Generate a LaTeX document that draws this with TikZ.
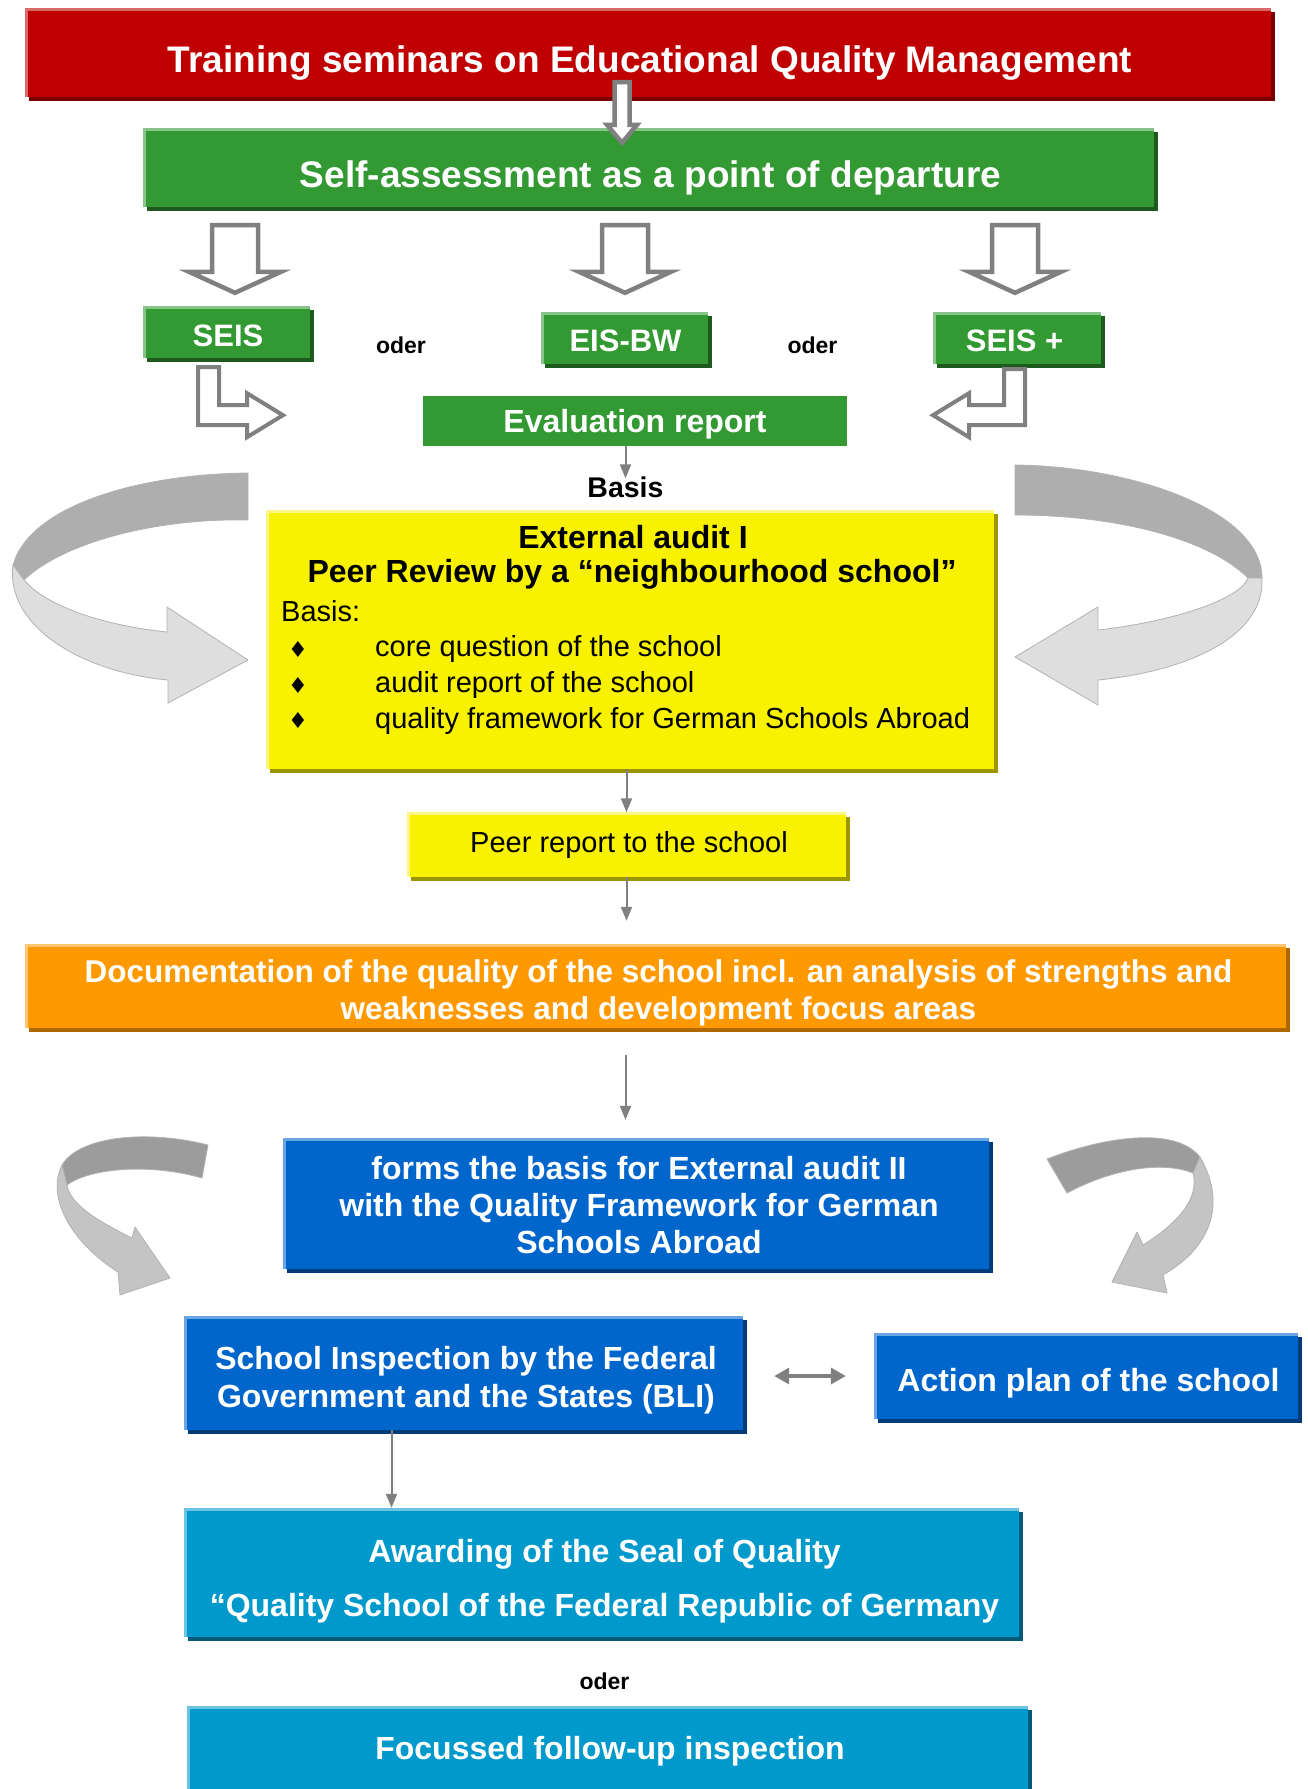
\documentclass[tikz,border=0pt]{standalone}
\usepackage{fontspec}
\setmainfont{Liberation Sans}
\newfontfamily\symbfont{DejaVu Sans}
\usetikzlibrary{arrows.meta,shadows,calc}

\definecolor{redfill}{HTML}{C00000}
\definecolor{redshadow}{HTML}{7A0000}
\definecolor{redrim}{HTML}{D86A6A}
\definecolor{greenfill}{HTML}{339933}
\definecolor{greenshadow}{HTML}{1E5A1E}
\definecolor{greenrim}{HTML}{88C488}
\definecolor{yellowfill}{HTML}{F8F200}
\definecolor{yellowshadow}{HTML}{9C9600}
\definecolor{yellowrim}{HTML}{FBF685}
\definecolor{orangefill}{HTML}{FF9900}
\definecolor{orangeshadow}{HTML}{B06800}
\definecolor{orangerim}{HTML}{FFC670}
\definecolor{bluefill}{HTML}{0066CC}
\definecolor{blueshadow}{HTML}{003C78}
\definecolor{bluerim}{HTML}{6AA4E2}
\definecolor{cyanfill}{HTML}{0099CC}
\definecolor{cyanshadow}{HTML}{005A78}
\definecolor{cyanrim}{HTML}{6CC4E2}
\definecolor{arrowgray}{HTML}{808080}
\definecolor{ribbonback}{HTML}{AEAEAE}
\definecolor{ribbonfront}{HTML}{DEDEDE}
\definecolor{ribbonbackii}{HTML}{9C9C9C}
\definecolor{ribbonfrontii}{HTML}{C4C4C4}

% hollow block arrow pointing down: top point, tip point, shaft half, head half, head length
\newcommand\blockdown[5]{%
  \coordinate (bt) at (#1);
  \coordinate (bb) at (#2);
  \draw[hollow] ($(bt)+(-#3,0)$) -- ($(bt)+(#3,0)$) -- ($(bb)+(#3,-#5)$)
    -- ($(bb)+(#4,-#5)$) -- (bb) -- ($(bb)+(-#4,-#5)$) -- ($(bb)+(-#3,-#5)$) -- cycle;}

\begin{document}
\begin{tikzpicture}[x=1pt,y=-1pt,
  panel/.style n args={3}{rectangle, inner sep=0pt, fill=#1,
    drop shadow={shadow xshift=4pt, shadow yshift=-4pt, fill=#2, opacity=1},
    path picture={\draw[#3, line width=5pt] (path picture bounding box.south west)
      -- (path picture bounding box.north west) -- (path picture bounding box.north east);}},
  wtext/.style={text=white, inner sep=0pt, align=center, font=\bfseries\fontsize{32}{37}\selectfont},
  btext/.style={text=black, inner sep=0pt, align=center, font=\bfseries\fontsize{32}{37}\selectfont},
  ntext/.style={text=black, inner sep=0pt, anchor=west, font=\fontsize{29}{35}\selectfont},
  odertext/.style={text=black, inner sep=0pt, font=\bfseries\fontsize{23}{28}\selectfont},
  conn/.style={draw=arrowgray, line width=2pt, -{Triangle[length=14pt,width=11pt]}},
  dblconn/.style={draw=arrowgray, line width=3.5pt,
    {Triangle[length=15pt,width=16pt]}-{Triangle[length=15pt,width=16pt]}},
  hollow/.style={draw=arrowgray, line width=4.5pt, fill=white, line join=miter},
  ribbon/.style={fill=#1, draw=black!30, line width=0.8pt, line join=round}]
\useasboundingbox (0,0) rectangle (1307,1789);

% boxes
\node[panel={redfill}{redshadow}{redrim}, minimum width=1246, minimum height=89] (train) at (648,52.5) {};
\node[panel={greenfill}{greenshadow}{greenrim}, minimum width=1011, minimum height=79] (selfass) at (648.5,167.5) {};
\node[panel={greenfill}{greenshadow}{greenrim}, minimum width=167, minimum height=52] (seis) at (226.5,332) {};
\node[panel={greenfill}{greenshadow}{greenrim}, minimum width=167, minimum height=52] (eisbw) at (624.5,338) {};
\node[panel={greenfill}{greenshadow}{greenrim}, minimum width=168, minimum height=52] (seisplus) at (1017,338) {};
\node[fill=greenfill, inner sep=0pt, minimum width=424, minimum height=50] (evalrep) at (635,421) {};
\node[panel={yellowfill}{yellowshadow}{yellowrim}, minimum width=728, minimum height=259] (audit) at (630,639.5) {};
\node[panel={yellowfill}{yellowshadow}{yellowrim}, minimum width=439, minimum height=64] (peerrep) at (626.5,844.5) {};
\node[panel={orangefill}{orangeshadow}{orangerim}, minimum width=1261, minimum height=84] (doc) at (655.5,986) {};
\node[panel={bluefill}{blueshadow}{bluerim}, minimum width=706, minimum height=131] (auditii) at (636,1203.5) {};
\node[panel={bluefill}{blueshadow}{bluerim}, minimum width=559, minimum height=114] (bli) at (463.5,1373) {};
\node[panel={bluefill}{blueshadow}{bluerim}, minimum width=424, minimum height=86] (action) at (1086,1376) {};
\node[panel={cyanfill}{cyanshadow}{cyanrim}, minimum width=835, minimum height=129] (award) at (601.5,1572.5) {};
\node[panel={cyanfill}{cyanshadow}{cyanrim}, minimum width=841, minimum height=90] (follow) at (607.5,1751) {};

% texts
\node[wtext, font=\bfseries\fontsize{37}{44}\selectfont] (trainlab) at (650,63) {Training seminars on Educational Quality Management};
\node[wtext, font=\bfseries\fontsize{37}{44}\selectfont] (selflab) at (650.5,178) {Self-assessment as a point of departure};
\node[wtext, font=\bfseries\fontsize{31}{36}\selectfont] (seislab) at (228,336) {SEIS};
\node[wtext, font=\bfseries\fontsize{31}{36}\selectfont] (eisbwlab) at (625.5,341) {EIS-BW};
\node[wtext, font=\bfseries\fontsize{31}{36}\selectfont] (seispluslab) at (1014.5,341) {SEIS +};
\node[odertext] (oderi) at (401,345) {oder};
\node[odertext] (oderii) at (812.5,345) {oder};
\node[wtext] (evallab) at (635,424) {Evaluation report};
\node[btext, font=\bfseries\fontsize{28.5}{34}\selectfont] (basis) at (625.5,487) {Basis};
\node[btext] (auditlabi) at (633,537) {External audit I};
\node[btext] (auditlabii) at (632,574) {Peer Review by a “neighbourhood school”};
\node[ntext] (basislist) at (281,611) {Basis:};
\foreach \yy/\item [count=\i] in {649/core question of the school,
    685/audit report of the school,
    720.5/quality framework for German Schools Abroad} {
  \node[text=black, inner sep=0pt, font=\symbfont\fontsize{22}{26}\selectfont] (bullet\i) at (298,\yy) {♦};
  \node[ntext] (item\i) at (375,\yy) {\item};
}
\node[btext, font=\fontsize{29}{35}\selectfont] (peerlab) at (629,845) {Peer report to the school};
\node[wtext, font=\bfseries\fontsize{31.5}{36.5}\selectfont] (doclab) at (658.5,993) {Documentation of the quality of the school incl. an analysis of strengths and\\weaknesses and development focus areas};
\node[wtext] (auditiilab) at (639,1205) {forms the basis for External audit II\\with the Quality Framework for German\\Schools Abroad};
\node[wtext, font=\bfseries\fontsize{32}{37.7}\selectfont] (blilab) at (466,1380) {School Inspection by the Federal\\Government and the States (BLI)};
\node[wtext] (actionlab) at (1088.5,1383) {Action plan of the school};
\node[wtext, font=\bfseries\fontsize{32}{53.7}\selectfont] (awardlab) at (604.5,1581) {Awarding of the Seal of Quality\\“Quality School of the Federal Republic of Germany};
\node[odertext] (oderiii) at (604.5,1681) {oder};
\node[wtext] (followlab) at (610,1751) {Focussed follow-up inspection};

% block arrows
\blockdown{$(train.south)+(-26,-15)$}{$(selfass.north)+(-26.5,15)$}{7.5}{15}{18}
\blockdown{$(seis.north |- selfass.south)+(8.5,18)$}{$(seis.north)+(8.5,-13)$}{23}{46}{21}
\blockdown{$(eisbw.north |- selfass.south)+(0.5,18)$}{$(eisbw.north)+(0.5,-19)$}{23}{46}{21}
\blockdown{$(seisplus.north |- selfass.south)+(-2,18)$}{$(seisplus.north)+(-2,-19)$}{23}{46}{21}
\coordinate (lbent) at ($(seis.south)+(-28.5,9)$);
\draw[hollow, line width=4pt] (lbent) -- ++(21,0) -- ++(0,38) -- ++(28,0) -- ++(0,-12)
  -- ++(36,22) -- ++(-36,22) -- ++(0,-12) -- ++(-49,0) -- cycle;
\coordinate (rbent) at ($(seisplus.south)+(8,5)$);
\draw[hollow, line width=4pt] (rbent) -- ++(-21,0) -- ++(0,36) -- ++(-35,0) -- ++(0,-12)
  -- ++(-36,22) -- ++(36,22) -- ++(0,-12) -- ++(56,0) -- cycle;

% thin connectors
\draw[conn] (evalrep.south -| basis.north) -- ([yshift=-2pt]basis.north);
\draw[conn] (audit.south -| peerrep.north) -- (peerrep.north);
\draw[conn, shorten >=23pt] (peerrep.south) -- (peerrep.south |- doc.north);
\draw[conn, shorten <=27pt, shorten >=18pt] (doc.south -| basis) -- (auditii.north -| basis);
\draw[dblconn, shorten <=31pt, shorten >=28pt] (bli.east |- action.west) -- (action.west);
\draw[conn] ([xshift=-72pt]bli.south) -- ([xshift=-72pt]bli.south |- award.north);

% curved ribbons, upper pair
\fill[ribbon=ribbonback] (248,473) .. controls (140,474) and (30,505) .. (13,565)
  -- (24,580) .. controls (60,545) and (150,518) .. (248,520) -- cycle;
\fill[ribbon=ribbonfront] (13,565) .. controls (5,625) and (80,672) .. (168,680)
  -- (168,703) -- (248,660) -- (167,607) -- (167,632)
  .. controls (100,625) and (45,605) .. (24,580) -- cycle;
\fill[ribbon=ribbonback] (1015,465) .. controls (1130,466) and (1262,510) .. (1262,578)
  -- (1248,578) .. controls (1210,540) and (1120,515) .. (1015,515) -- cycle;
\fill[ribbon=ribbonfront] (1262,578) .. controls (1265,640) and (1180,672) .. (1098,680)
  -- (1098,705) -- (1015,657) -- (1098,607) -- (1098,630)
  .. controls (1170,622) and (1240,600) .. (1248,578) -- cycle;
% curved ribbons, lower pair
\fill[ribbon=ribbonbackii] (208,1145) .. controls (150,1130) and (80,1135) .. (62,1165)
  -- (67,1185) .. controls (90,1168) and (150,1163) .. (202,1178) -- cycle;
\fill[ribbon=ribbonfrontii] (62,1165) .. controls (45,1200) and (75,1245) .. (118,1272)
  -- (120,1295) -- (170,1278) -- (135,1227) -- (132,1238)
  .. controls (100,1222) and (70,1205) .. (67,1185) -- cycle;
\fill[ribbon=ribbonbackii] (1047,1159) .. controls (1100,1138) and (1175,1125) .. (1200,1157)
  -- (1193,1173) .. controls (1160,1160) and (1110,1170) .. (1067,1193) -- cycle;
\fill[ribbon=ribbonfrontii] (1200,1157) .. controls (1225,1200) and (1215,1245) .. (1163,1275)
  -- (1167,1293) -- (1112,1282) -- (1137,1232) -- (1143,1245)
  .. controls (1175,1225) and (1200,1200) .. (1193,1173) -- cycle;
\end{tikzpicture}
\end{document}
